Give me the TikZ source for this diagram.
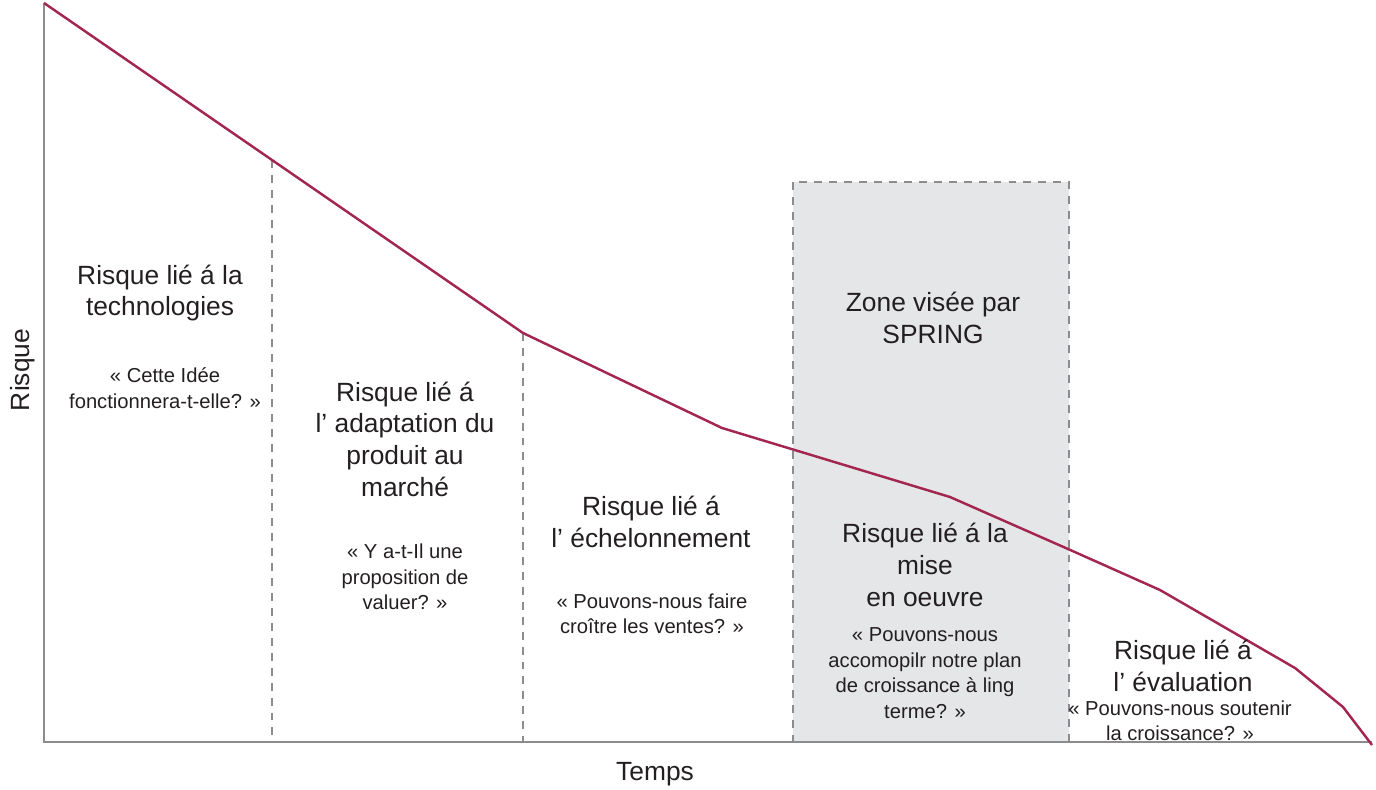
\documentclass[tikz,border=0pt]{standalone}
\usepackage{fontspec}
\setmainfont{Liberation Sans}
\usepackage{tikz}
\usetikzlibrary{positioning,calc}
\definecolor{courbe}{RGB}{163,38,79}
\definecolor{axe}{RGB}{140,140,140}
\definecolor{zonefond}{RGB}{229,230,232}
\definecolor{texte}{RGB}{35,31,32}

\begin{document}
\begin{tikzpicture}[x=0.02cm, y=-0.02cm,
    titre/.style={align=center, text=texte, inner sep=0pt, font=\fontsize{15}{18}\selectfont},
    question/.style={align=center, text=texte, inner sep=0pt, font=\fontsize{11.5}{14.5}\selectfont},
    separation/.style={draw=axe, line width=0.85pt, dash pattern=on 4.5pt off 4pt},
    axes/.style={draw=axe, line width=1.6pt}]
    \useasboundingbox (0,0) rectangle (1376,790);

    % zone SPRING
    \coordinate (zoneNO) at (793,182);
    \coordinate (zoneSE) at (1069,742);
    \draw[separation, fill=zonefond] (zoneNO) rectangle (zoneSE);

    % points de la courbe
    \coordinate (c0) at (44,3);
    \coordinate (c1) at (272,160);
    \coordinate (c2) at (523,333);
    \coordinate (c3) at (722,428);
    \coordinate (c4) at (950,497);
    \coordinate (c5) at (1068,549);
    \coordinate (c6) at (1160,590);
    \coordinate (c7) at (1295,668);
    \coordinate (c8) at (1343,707);
    \coordinate (c9) at (1372,745);

    % axes
    \coordinate (origine) at (44,742);
    \coordinate (xfin) at (1372,742);
    \draw[separation] (c1) -- (c1 |- origine);
    \draw[separation] (c2) -- (c2 |- origine);
    \draw[axes] (c0) -- (origine) -- (xfin);
    \draw[courbe, line width=1.4pt, line join=round]
        (c0) -- (c1) -- (c2) -- (c3) -- (c4) -- (c5) -- (c6) -- (c7) -- (c8) -- (c9);

    \node[titre, rotate=90] (risque) at (23,370) {Risque};
    \node[titre] (temps) at (655,774) {Temps};

    % textes des zones
    \node[titre] (techno) at (160,293) {Risque lié á la\\technologies};
    \node[question] (techQ) at (165,388) {« Cette Idée\\fonctionnera-t-elle? »};
    \node[titre] (adapt) at (405,439) {Risque lié á\\l’ adaptation du\\produit au\\marché};
    \node[question] (adaptQ) at (405,577) {« Y a-t-Il une\\proposition de\\valuer? »};
    \node[titre] (echel) at (651,522) {Risque lié á\\l’ échelonnement};
    \node[question] (echelQ) at (652,614) {« Pouvons-nous faire\\croître les ventes? »};
    \node[titre] (spring) at (933,318) {Zone visée par\\SPRING};
    \node[titre] (mise) at (925,565) {Risque lié á la\\mise\\en oeuvre};
    \node[question] (miseQ) at (925,673) {« Pouvons-nous\\accomopilr notre plan\\de croissance à ling\\terme? »};
    \node[titre] (evalu) at (1183,666) {Risque lié á\\l’ évaluation};
    \node[question] (evaluQ) at (1180,721) {« Pouvons-nous soutenir\\la croissance? »};
\end{tikzpicture}
\end{document}
